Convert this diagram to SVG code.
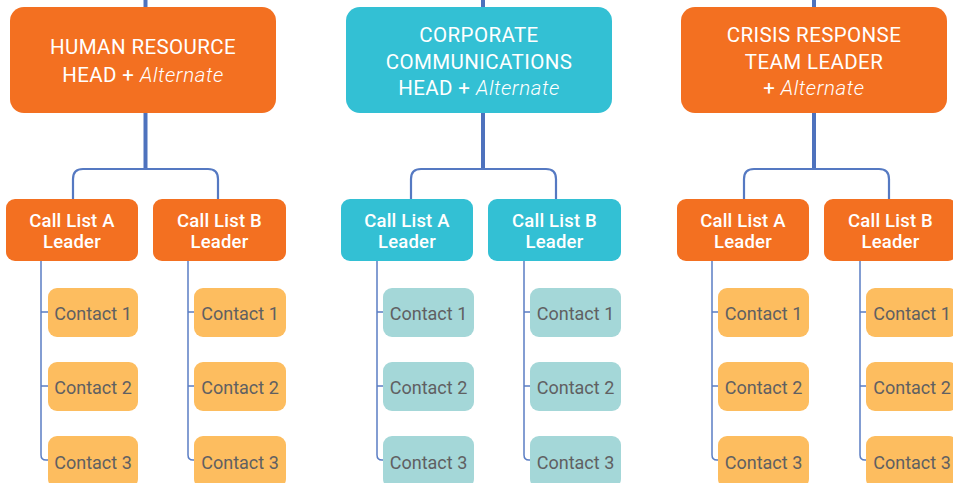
<svg xmlns="http://www.w3.org/2000/svg" width="953" height="483" viewBox="0 0 953 483">
<style>
.or{fill:#f37021}
.tl{fill:#33c0d4}
.co{fill:#fdbd5f}
.ct{fill:#a4d7d8}
.head{font-family:Roboto,"Liberation Sans",sans-serif;font-size:20.5px;font-weight:400;letter-spacing:0.4px;fill:#fff;text-anchor:middle}
.alt{font-style:italic;font-weight:300;letter-spacing:0.6px}
.lead{font-family:Roboto,"Liberation Sans",sans-serif;font-size:18.5px;font-weight:500;letter-spacing:0.2px;fill:#fff;text-anchor:middle}
.cont{font-family:Roboto,"Liberation Sans",sans-serif;font-size:18px;fill:#606062;text-anchor:middle}
.thick{stroke:#4e72bd;stroke-width:4;fill:none}
.thin{stroke:#5579c2;stroke-width:2.2;fill:none}
.col{stroke:#5b7ec4;stroke-width:1.5;fill:none}
</style>
<g id="connectors">
<path class="thick" d="M145.5,0V8M145.5,112V170"/>
<path class="thick" d="M483,0V8M483,112V170"/>
<path class="thick" d="M814,0V8M814,112V170"/>
<path class="thin" d="M73,200V179Q73,169 83,169H208Q218,169 218,179V200"/>
<path class="thin" d="M411,200V179Q411,169 421,169H546Q556,169 556,179V200"/>
<path class="thin" d="M744,200V179Q744,169 754,169H879Q889,169 889,179V200"/>
<path class="col" d="M41,260V455Q41,460 46,460H49M41,312H49M41,386H49"/>
<path class="col" d="M188,260V455Q188,460 193,460H195M188,312H195M188,386H195"/>
<path class="col" d="M377,260V455Q377,460 382,460H384M377,312H384M377,386H384"/>
<path class="col" d="M524,260V455Q524,460 529,460H531M524,312H531M524,386H531"/>
<path class="col" d="M712,260V455Q712,460 717,460H719M712,312H719M712,386H719"/>
<path class="col" d="M860,260V455Q860,460 865,460H867M860,312H867M860,386H867"/>
</g>
<g id="hr-head"><rect class="or" x="10" y="7" width="266" height="106" rx="14"/>
<text class="head" x="143" y="54">HUMAN RESOURCE</text>
<text class="head" x="143" y="82">HEAD + <tspan class="alt">Alternate</tspan></text></g>
<g id="cc-head"><rect class="tl" x="346" y="7" width="266" height="106" rx="14"/>
<text class="head" x="479" y="42">CORPORATE</text>
<text class="head" x="479" y="68.5">COMMUNICATIONS</text>
<text class="head" x="479" y="95">HEAD + <tspan class="alt">Alternate</tspan></text></g>
<g id="cr-head"><rect class="or" x="681" y="7" width="266" height="106" rx="14"/>
<text class="head" x="814" y="42">CRISIS RESPONSE</text>
<text class="head" x="814" y="68.5">TEAM LEADER</text>
<text class="head" x="814" y="95">+ <tspan class="alt">Alternate</tspan></text></g>
<g id="hr-a"><rect class="or" x="6" y="199" width="132" height="62" rx="9"/><text class="lead" x="72" y="227">Call List A</text><text class="lead" x="72" y="247.5">Leader</text></g>
<g id="hr-b"><rect class="or" x="153" y="199" width="133" height="62" rx="9"/><text class="lead" x="219.5" y="227">Call List B</text><text class="lead" x="219.5" y="247.5">Leader</text></g>
<g id="cc-a"><rect class="tl" x="341" y="199" width="132" height="62" rx="9"/><text class="lead" x="407" y="227">Call List A</text><text class="lead" x="407" y="247.5">Leader</text></g>
<g id="cc-b"><rect class="tl" x="488" y="199" width="133" height="62" rx="9"/><text class="lead" x="554.5" y="227">Call List B</text><text class="lead" x="554.5" y="247.5">Leader</text></g>
<g id="cr-a"><rect class="or" x="677" y="199" width="132" height="62" rx="9"/><text class="lead" x="743" y="227">Call List A</text><text class="lead" x="743" y="247.5">Leader</text></g>
<g id="cr-b"><rect class="or" x="824" y="199" width="133" height="62" rx="9"/><text class="lead" x="890.5" y="227">Call List B</text><text class="lead" x="890.5" y="247.5">Leader</text></g>
<g id="hr-a-c1"><rect class="co" x="48" y="288" width="90" height="49" rx="9"/><text class="cont" x="93" y="320">Contact 1</text></g>
<g id="hr-a-c2"><rect class="co" x="48" y="362" width="90" height="49" rx="9"/><text class="cont" x="93" y="394">Contact 2</text></g>
<g id="hr-a-c3"><rect class="co" x="48" y="436" width="90" height="52" rx="9"/><text class="cont" x="93" y="469">Contact 3</text></g>
<g id="hr-b-c1"><rect class="co" x="194" y="288" width="92" height="49" rx="9"/><text class="cont" x="240" y="320">Contact 1</text></g>
<g id="hr-b-c2"><rect class="co" x="194" y="362" width="92" height="49" rx="9"/><text class="cont" x="240" y="394">Contact 2</text></g>
<g id="hr-b-c3"><rect class="co" x="194" y="436" width="92" height="52" rx="9"/><text class="cont" x="240" y="469">Contact 3</text></g>
<g id="cc-a-c1"><rect class="ct" x="383" y="288" width="91" height="49" rx="9"/><text class="cont" x="428.5" y="320">Contact 1</text></g>
<g id="cc-a-c2"><rect class="ct" x="383" y="362" width="91" height="49" rx="9"/><text class="cont" x="428.5" y="394">Contact 2</text></g>
<g id="cc-a-c3"><rect class="ct" x="383" y="436" width="91" height="52" rx="9"/><text class="cont" x="428.5" y="469">Contact 3</text></g>
<g id="cc-b-c1"><rect class="ct" x="530" y="288" width="91" height="49" rx="9"/><text class="cont" x="575.5" y="320">Contact 1</text></g>
<g id="cc-b-c2"><rect class="ct" x="530" y="362" width="91" height="49" rx="9"/><text class="cont" x="575.5" y="394">Contact 2</text></g>
<g id="cc-b-c3"><rect class="ct" x="530" y="436" width="91" height="52" rx="9"/><text class="cont" x="575.5" y="469">Contact 3</text></g>
<g id="cr-a-c1"><rect class="co" x="718" y="288" width="91" height="49" rx="9"/><text class="cont" x="763.5" y="320">Contact 1</text></g>
<g id="cr-a-c2"><rect class="co" x="718" y="362" width="91" height="49" rx="9"/><text class="cont" x="763.5" y="394">Contact 2</text></g>
<g id="cr-a-c3"><rect class="co" x="718" y="436" width="91" height="52" rx="9"/><text class="cont" x="763.5" y="469">Contact 3</text></g>
<g id="cr-b-c1"><rect class="co" x="866" y="288" width="92" height="49" rx="9"/><text class="cont" x="912" y="320">Contact 1</text></g>
<g id="cr-b-c2"><rect class="co" x="866" y="362" width="92" height="49" rx="9"/><text class="cont" x="912" y="394">Contact 2</text></g>
<g id="cr-b-c3"><rect class="co" x="866" y="436" width="92" height="52" rx="9"/><text class="cont" x="912" y="469">Contact 3</text></g>
</svg>
